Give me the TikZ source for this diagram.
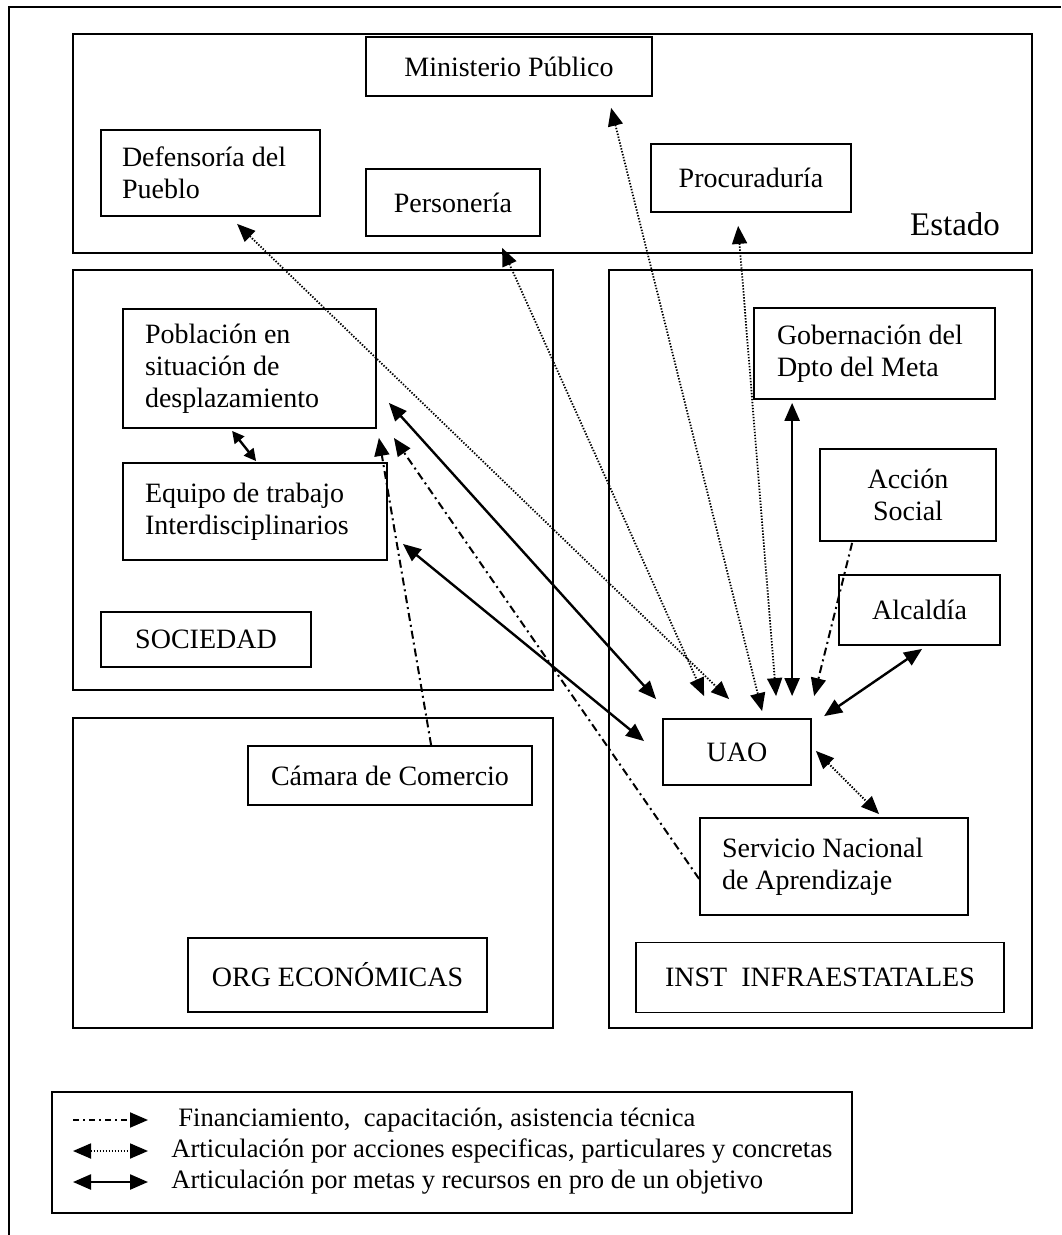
\documentclass[tikz,border=0pt]{standalone}
\usepackage{fontspec}
\setmainfont{Liberation Serif}
\usetikzlibrary{arrows.meta,calc}
\newcommand\mainfs{\fontsize{14}{16}\selectfont}
\newcommand\legfs{\fontsize{13.3}{16}\selectfont}
\newcommand\bigfs{\fontsize{16.5}{19}\selectfont}
\begin{document}
\begin{tikzpicture}[x=0.5pt,y=-0.5pt,
  every node/.style={font=\mainfs, text=black},
  region/.style={draw, line width=0.9pt, inner sep=0pt},
  box/.style={draw, line width=0.9pt, inner sep=0pt, align=center},
  lbox/.style={draw, line width=0.9pt, inner ysep=0pt, align=flush left},
  tipm/.tip={Triangle[length=9pt,width=7.5pt]},
  tips/.tip={Triangle[length=6pt,width=6pt]},
  solidarr/.style={line width=1.2pt, tipm-tipm},
  shortarr/.style={line width=1.2pt, tips-tips},
  dotarr/.style={line width=0.9pt, dash pattern=on 0.7pt off 0.8pt, tipm-tipm},
  dasharr/.style={line width=1pt, dash pattern=on 4pt off 2pt on 1pt off 2pt, -tipm},
]
\useasboundingbox (0,0) rectangle (1061,1235);
% outer frame (cropped)
\draw[line width=0.8pt] (9,1235) -- (9,7) -- (1061,7);

% regions
\node[region, minimum width=479.5pt, minimum height=109.5pt] (estado) at (552.5,143.5) {};
\node[region, minimum width=240pt, minimum height=210pt] (soc) at (313,480) {};
\node[region, minimum width=211.5pt, minimum height=379pt] (inst) at (820.5,649) {};
\node[region, minimum width=240pt, minimum height=155pt] (org) at (313,873) {};

% Estado
\node[box, minimum width=143pt, minimum height=29.5pt] (min) at (509,66.5) {Ministerio Público};
\node[lbox, inner xsep=10.5pt, text width=88.5pt, minimum height=43pt] (def) at (210.5,173) {Defensoría del\\Pueblo};
\node[box, minimum width=87pt, minimum height=33.5pt] (per) at (453,202.5) {Personería};
\node[box, minimum width=100pt, minimum height=34pt] (pro) at (751,178) {Procuraduría};
\node[font=\bigfs] (estlbl) at (955,224) {Estado};

% Sociedad
\node[lbox, inner xsep=11pt, text width=104.5pt, minimum height=59.5pt] (pob) at (249.5,368.5) {Población en\\situación de\\desplazamiento};
\node[lbox, inner xsep=11pt, text width=110pt, minimum height=48.5pt] (equ) at (255,511.5) {Equipo de trabajo\\Interdisciplinarios};
\node[box, minimum width=105pt, minimum height=27.5pt] (soclbl) at (206,639.5) {SOCIEDAD};

% Inst infraestatales
\node[lbox, inner xsep=11.5pt, text width=97.5pt, minimum height=45.5pt] (gob) at (874.5,353.5) {Gobernación del\\Dpto del Meta};
\node[box, minimum width=88pt, minimum height=46pt] (acc) at (908,495) {Acción\\Social};
\node[box, minimum width=80.5pt, minimum height=35pt] (alc) at (919.5,610) {Alcaldía};
\node[box, minimum width=74pt, minimum height=33pt] (uao) at (737,752) {UAO};
\node[lbox, inner xsep=11pt, text width=112pt, minimum height=48.5pt] (ser) at (834,866.5) {Servicio Nacional\\de Aprendizaje};
\node[box, minimum width=184pt, minimum height=35pt] (instlbl) at (820,977.5) {INST\ \ INFRAESTATALES};

% Org economicas
\node[box, minimum width=142pt, minimum height=29.5pt] (cam) at (390,775.5) {Cámara de Comercio};
\node[box, minimum width=149.5pt, minimum height=37pt] (orglbl) at (337.5,975) {ORG ECONÓMICAS};

% connectors: dotted (acciones especificas)
\draw[dotarr] ($(def.south west)+(137,7)$) -- ($(uao.north west)+(67,-19)$);
\draw[dotarr] ($(per.south west)+(137,11)$) -- ($(uao.north west)+(42,-22)$);
\draw[dotarr] ($(min.south west)+(246,11)$) -- ($(uao.north west)+(100,-7)$);
\draw[dotarr] ($(pro.south west)+(88,13)$) -- ($(uao.north west)+(114,-22)$);
\draw[dotarr] ($(uao.south east)+(4,-35)$) -- ($(ser.north west)+(180,-3)$);

% solid (metas y recursos)
\draw[solidarr] ($(gob.south west)+(39,3)$) -- ($(uao.north west)+(130,-22)$);
\draw[solidarr] ($(alc.south west)+(84,3)$) -- ($(uao.north west)+(162,-2)$);
\draw[solidarr] ($(pob.south east)+(12,-26)$) -- ($(uao.north west)+(-6,-19)$);
\draw[solidarr] ($(equ.south east)+(15,-17)$) -- ($(uao.north west)+(-18,23)$);
\draw[shortarr] ($(pob.south west)+(110,2)$) -- ($(equ.north west)+(134,-1)$);

% dash-dot (financiamiento)
\draw[dasharr] ($(acc.south west)+(33,1)$) -- ($(uao.north west)+(152,-22)$);
\draw[dasharr] ($(cam.north west)+(184,0)$) -- ($(pob.south east)+(2,9)$);
\draw[dasharr] ($(ser.south west)+(0,-37)$) -- ($(pob.south east)+(17,9)$);

% legend
\node[region, minimum width=400pt, minimum height=60.5pt] (leg) at (452,1152.5) {};
\coordinate (l1a) at (73,1120); \coordinate (l1b) at (148,1120);
\coordinate (l2a) at (73,1151); \coordinate (l2b) at (148,1151);
\coordinate (l3a) at (73,1182); \coordinate (l3b) at (148,1182);
\draw[dasharr, dash pattern=on 3pt off 2pt on 1pt off 2pt] (l1a) -- (l1b);
\draw[dotarr] (l2a) -- (l2b);
\draw[solidarr] (l3a) -- (l3b);
\node[anchor=west, font=\legfs, inner sep=0pt] (t1) at (178,1120) {Financiamiento,\ \ capacitación, asistencia técnica};
\node[anchor=west, font=\legfs, inner sep=0pt] (t2) at (171,1151) {Articulación por acciones especificas, particulares y concretas};
\node[anchor=west, font=\legfs, inner sep=0pt] (t3) at (171,1182) {Articulación por metas y recursos en pro de un objetivo};
\end{tikzpicture}
\end{document}
